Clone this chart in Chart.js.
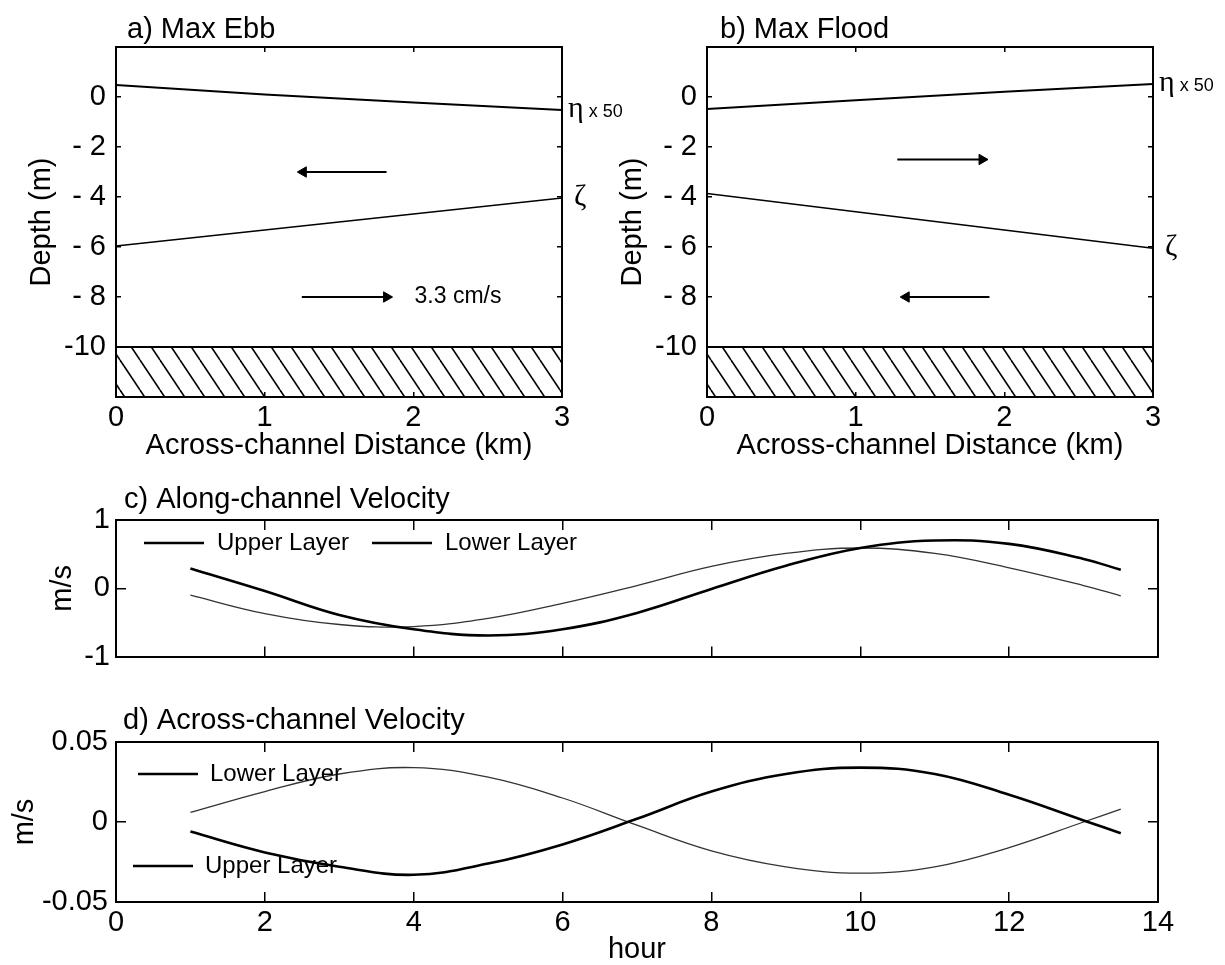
<!DOCTYPE html>
<html>
<head>
<meta charset="utf-8">
<script src="https://cdn.jsdelivr.net/npm/chart.js@4.4.1/dist/chart.umd.min.js"></script>
<style>
  html, body { margin: 0; padding: 0; background: #fff; overflow: hidden; }
  body { width: 1225px; height: 965px; position: relative; }
  canvas { position: absolute; }
</style>
</head>
<body>
<canvas id="chartA" width="650" height="470" style="left:0;top:0"></canvas>
<canvas id="chartB" width="634" height="470" style="left:591px;top:0"></canvas>
<canvas id="chartC" width="1225" height="230" style="left:0;top:460px"></canvas>
<canvas id="chartD" width="1225" height="280" style="left:0;top:690px"></canvas>
<script>
// ---- values ----
const distanceKm = [0, 1, 2, 3];
const etaEbb = [0.48, 0.1, -0.22, -0.52];        // eta x 50, max ebb
const zetaEbb = [-5.96, -5.32, -4.68, -4.04];    // interface, max ebb
const etaFlood = [-0.48, -0.13, 0.21, 0.52];
const zetaFlood = [-3.86, -4.59, -5.32, -6.05];
const bedX = [0, 3];
const bedDepth = -10;
const depthTicks = [0, -2, -4, -6, -8, -10];
const depthTickLabels = ['0', '- 2', '- 4', '- 6', '- 8', '-10'];

// arrows: [tail x, head x, depth]
const ebbArrows = [[1.82, 1.26, -3], [1.25, 1.82, -8]];
const floodArrows = [[1.28, 1.85, -2.5], [1.90, 1.34, -8]];

const hours = [1, 2, 3, 4, 5, 6, 7, 8, 9, 10, 11, 12, 13, 13.5];
const alongUpper = [0.29, -0.04, -0.39, -0.60, -0.69, -0.60, -0.36, -0.01, 0.33, 0.59, 0.70, 0.65, 0.43, 0.27];
const alongLower = [-0.10, -0.37, -0.53, -0.56, -0.44, -0.22, 0.04, 0.32, 0.51, 0.59, 0.51, 0.30, 0.04, -0.11];
const acrossUpper = [-0.006, -0.019, -0.028, -0.033, -0.026, -0.014, 0.002, 0.019, 0.030, 0.034, 0.030, 0.017, 0.001, -0.007];
const acrossLower = [0.006, 0.019, 0.030, 0.034, 0.028, 0.015, -0.002, -0.018, -0.028, -0.032, -0.028, -0.016, 0.000, 0.008];

const FAMILY = "'Liberation Sans', Arial, Helvetica, sans-serif";
const SERIF = "'Liberation Serif', 'Times New Roman', serif";
Chart.defaults.font.family = FAMILY;
Chart.defaults.font.size = 29;
Chart.defaults.color = '#000';
Chart.defaults.animation = false;

const xy = (xs, ys) => xs.map((x, i) => ({x: x, y: ys[i]}));

function line(data, extra) {
  return Object.assign({
    data: data, borderColor: '#000', borderWidth: 1.5, pointRadius: 0,
    fill: false, tension: 0, xAxisID: 'x', yAxisID: 'y'
  }, extra);
}

function arrow(a) {
  const [x0, x1, y] = a;
  return line([{x: x0, y: y}, {x: x1, y: y}], {
    borderWidth: 2, pointRadius: [0, 6], pointStyle: 'triangle',
    pointRotation: x1 > x0 ? 90 : -90,
    pointBackgroundColor: '#000', pointBorderColor: '#000', pointBorderWidth: 1
  });
}

function hatchPattern() {
  const tile = document.createElement('canvas');
  tile.width = 20; tile.height = 30;
  const t = tile.getContext('2d');
  t.strokeStyle = '#000'; t.lineWidth = 1.6;
  for (const off of [-20, 0, 20]) {
    t.beginPath(); t.moveTo(off, 0); t.lineTo(off + 20, 30); t.stroke();
  }
  return t.createPattern(tile, 'repeat');
}
const hatch = hatchPattern();

// box with inside ticks on all four sides
function frame(c) {
  const grid = {drawOnChartArea: false, drawTicks: true, tickLength: -c.tick, color: '#000', lineWidth: 1.5};
  const border = {display: true, color: '#000', width: 2, z: 1};
  return {
    x: {
      type: 'linear', position: 'bottom', min: c.x[0], max: c.x[1], grid: grid, border: border,
      ticks: {stepSize: c.x[2], display: c.xLabels, padding: c.xPad, maxRotation: 0, autoSkip: false},
      title: {display: !!c.xTitle, text: c.xTitle || '', padding: {top: 0, bottom: c.xTitlePad || 0}},
      afterFit: s => { s.height = c.xHeight; }
    },
    x2: {
      type: 'linear', position: 'top', min: c.x[0], max: c.x[1], grid: grid, border: border,
      ticks: {stepSize: c.x[2], display: false},
      afterFit: s => { s.height = 0; }
    },
    y: {
      type: 'linear', position: 'left', min: c.y[0], max: c.y[1], grid: grid, border: border,
      ticks: {stepSize: c.y[2], padding: c.yPad, autoSkip: false, callback: c.yCallback},
      title: {display: true, text: c.yTitle, padding: {top: c.yTitlePad, bottom: 0}},
      afterFit: s => { s.width = 116; }
    },
    y2: {
      type: 'linear', position: 'right', min: c.y[0], max: c.y[1], grid: grid, border: border,
      ticks: {stepSize: c.y[2], display: false},
      afterFit: s => { s.width = 0; }
    }
  };
}

function panelText(spec) {
  return {
    id: 'panelText',
    afterDraw(chart) {
      const {ctx, chartArea: area} = chart;
      ctx.save();
      ctx.fillStyle = '#000';
      ctx.strokeStyle = '#000';
      ctx.textAlign = 'left';
      ctx.font = '29px ' + FAMILY;
      ctx.textBaseline = 'alphabetic';
      ctx.fillText(spec.title, area.left + spec.titleDx, area.top - spec.titleDy);
      for (const lab of spec.endLabels || []) {
        const pts = chart.getDatasetMeta(lab.ds).data;
        const p = pts[pts.length - 1];
        let x = (lab.fromPoint ? p.x : area.right) + lab.dx;
        ctx.textBaseline = lab.baseline || 'alphabetic';
        for (const [text, font] of lab.parts) {
          ctx.font = font;
          ctx.fillText(text, x, p.y + lab.dy);
          x += ctx.measureText(text).width;
        }
      }
      for (const k of spec.keys || []) {
        const x0 = area.left + k.x, y0 = area.top + k.y;
        ctx.beginPath();
        ctx.lineWidth = 2.5;
        ctx.moveTo(x0, y0); ctx.lineTo(x0 + 60, y0);
        ctx.stroke();
        ctx.font = '24px ' + FAMILY;
        ctx.textBaseline = 'middle';
        ctx.fillText(chart.data.datasets[k.ds].label, x0 + 60 + k.gap, y0);
      }
      ctx.restore();
    }
  };
}

function depthLabel(v) {
  const i = depthTicks.indexOf(v);
  return i < 0 ? null : depthTickLabels[i];
}

function sectionChart(id, title, eta, zeta, arrows, padRight, extraLabels, titleDx) {
  const datasets = [
    line(xy(bedX, bedX.map(() => bedDepth)), {fill: 'start', backgroundColor: hatch, borderWidth: 2}),
    line(xy(distanceKm, eta), {label: 'eta', borderWidth: 1.8}),
    line(xy(distanceKm, zeta), {label: 'zeta', borderWidth: 1.5})
  ].concat(arrows.map(arrow));
  new Chart(document.getElementById(id), {
    type: 'line',
    data: {datasets: datasets},
    options: {
      responsive: false,
      layout: {padding: {top: 47, right: padRight, bottom: 0, left: 0}},
      plugins: {legend: {display: false}, tooltip: {enabled: false}},
      scales: frame({
        x: [0, 3, 1], y: [-12, 2, 2], tick: 5, xLabels: true, xPad: 9, xHeight: 73,
        xTitle: 'Across-channel Distance (km)', xTitlePad: 7,
        yPad: 15, yTitle: 'Depth (m)', yTitlePad: 25, yCallback: depthLabel
      })
    },
    plugins: [panelText({
      title: title, titleDx: titleDx, titleDy: 9,
      endLabels: [
        {ds: 1, dx: 6, dy: 7, parts: [['η', '30px ' + SERIF], [' x 50', '18px ' + FAMILY]]},
        {ds: 2, dx: 12, dy: 7, parts: [['ζ', '30px ' + SERIF]]}
      ].concat(extraLabels)
    })]
  });
}

sectionChart('chartA', 'a) Max Ebb', etaEbb, zetaEbb, ebbArrows, 88,
  [{ds: 4, fromPoint: true, dx: 28, dy: 0, baseline: 'middle', parts: [['3.3 cm/s', '23px ' + FAMILY]]}], 11);
sectionChart('chartB', 'b) Max Flood', etaFlood, zetaFlood, floodArrows, 72, [], 13);

function velocityChart(id, title, upper, lower, c, keys) {
  new Chart(document.getElementById(id), {
    type: 'line',
    data: {datasets: [
      line(xy(hours, upper), {label: 'Upper Layer', borderWidth: 2.6, tension: 0.4}),
      line(xy(hours, lower), {label: 'Lower Layer', borderWidth: 1.3, borderColor: '#333', tension: 0.4})
    ]},
    options: {
      responsive: false,
      layout: {padding: {top: c.top, right: 67, bottom: 0, left: 0}},
      plugins: {legend: {display: false}, tooltip: {enabled: false}},
      scales: frame(c)
    },
    plugins: [panelText({title: title, titleDx: c.titleDx, titleDy: c.titleDy, keys: keys})]
  });
}

velocityChart('chartC', 'c) Along-channel Velocity', alongUpper, alongLower, {
  top: 60, x: [0, 14, 2], y: [-1, 1, 1], tick: 10, xLabels: false, xPad: 0, xHeight: 10,
  yPad: 16, yTitle: 'm/s', yTitlePad: 46, titleDx: 8, titleDy: 12
}, [{ds: 0, x: 28, y: 23, gap: 13}, {ds: 1, x: 256, y: 23, gap: 13}]);

velocityChart('chartD', 'd) Across-channel Velocity', acrossUpper, acrossLower, {
  top: 52, x: [0, 14, 2], y: [-0.05, 0.05, 0.05], tick: 10, xLabels: true, xPad: 14, xHeight: 68,
  xTitle: 'hour', xTitlePad: 3,
  yPad: 18, yTitle: 'm/s', yTitlePad: 8, titleDx: 7, titleDy: 13
}, [{ds: 1, x: 22, y: 32, gap: 12}, {ds: 0, x: 17, y: 124, gap: 12}]);
</script>
</body>
</html>
